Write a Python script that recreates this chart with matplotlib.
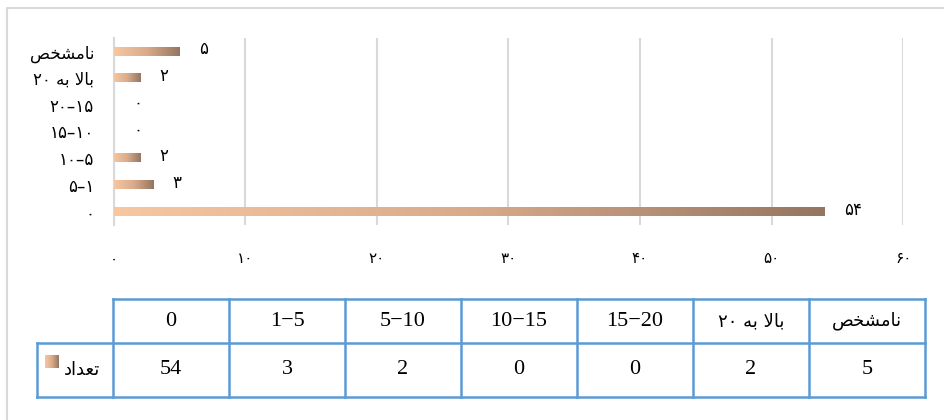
import matplotlib.pyplot as plt
import numpy as np
from matplotlib.colors import LinearSegmentedColormap

W, H = 944, 420

# categories from bottom to top; Persian words written in shaped (presentation) form
categories = ["۰", "۵–۱", "۱۰–۵", "۱۵–۱۰", "۲۰–۱۵",
              "۲۰ \uFEEA\uFE91 \uFEFB\uFE8E\uFE91",
              "\uFEBA\uFEA8\uFEB8\uFEE3\uFE8E\uFEE7"]
counts = [54, 3, 2, 0, 0, 2, 5]
x_ticks = [0, 10, 20, 30, 40, 50, 60]
table_headers = ["0", "1−5", "5−10", "10−15", "15−20", categories[5], categories[6]]
series_name = "\uFEA9\uFE8D\uFEAA\uFECC\uFE97"

FA = str.maketrans("0123456789", "۰۱۲۳۴۵۶۷۸۹")
GRID = "#D9D9D9"
BLUE = "#5B9BD5"
SERIF = ["Liberation Serif", "DejaVu Sans"]
bar_cmap = LinearSegmentedColormap.from_list("bar", ["#F7C7A1", "#D9AB8B", "#957561"])
gradient = np.linspace(0, 1, 256).reshape(1, -1)

plt.rcParams["font.family"] = ["DejaVu Sans"]

fig = plt.figure(figsize=(W / 100, H / 100), dpi=100)

# background layer in pixel coordinates: outer frame and data table
bg = fig.add_axes([0, 0, 1, 1])
bg.set_xlim(0, W)
bg.set_ylim(H, 0)
bg.axis("off")
bg.plot([7, 7, W + 5], [H + 5, 8, 8], color=GRID, lw=1.5)

ax = fig.add_axes([113.5 / W, (H - 225) / H, (903.3 - 113.5) / W, (225 - 38) / H])
ax.set_facecolor("none")

bar_h = 0.32
for i, v in enumerate(counts):
    if v > 0:
        ax.imshow(gradient, cmap=bar_cmap, aspect="auto", interpolation="bilinear",
                  extent=[0, v, i - bar_h / 2, i + bar_h / 2], zorder=3)
    ax.annotate(str(v).translate(FA), (v, i), xytext=(14, 1.5), textcoords="offset points",
                ha="left", va="center", fontsize=12, color="black", zorder=4)

ax.set_xlim(0, 60)
ax.set_ylim(-0.5, len(categories) - 0.5)
ax.set_xticks(x_ticks)
ax.set_xticklabels([str(t).translate(FA) for t in x_ticks], fontsize=11)
ax.set_yticks(range(len(categories)))
ax.set_yticklabels(categories, fontsize=12)
ax.tick_params(axis="x", length=0, pad=19)
ax.tick_params(axis="y", length=0, pad=14)
ax.grid(axis="x", color=GRID, lw=1.5, zorder=0)
for side in ["top", "right", "bottom"]:
    ax.spines[side].set_visible(False)
ax.spines["left"].set_color(GRID)
ax.spines["left"].set_linewidth(1.5)
ax.spines["left"].set_zorder(1)

# data table under the chart
col_edges = [113 + 116 * k for k in range(len(table_headers) + 1)]
row_top, row_mid, row_bot = 299, 343, 397
lw = 1.8
bg.plot([col_edges[0], col_edges[-1]], [row_top, row_top], color=BLUE, lw=lw)
bg.plot([37, col_edges[-1]], [row_mid, row_mid], color=BLUE, lw=lw)
bg.plot([37, col_edges[-1]], [row_bot, row_bot], color=BLUE, lw=lw)
bg.plot([37, 37], [row_mid, row_bot], color=BLUE, lw=lw)
for x in col_edges:
    bg.plot([x, x], [row_top, row_bot], color=BLUE, lw=lw)

for k, (head, v) in enumerate(zip(table_headers, counts)):
    cx = (col_edges[k] + col_edges[k + 1]) / 2
    if head[0] in "0123456789":
        bg.text(cx, (row_top + row_mid) / 2 + 1, head, ha="center", va="center",
                fontsize=16, family=SERIF)
    else:
        bg.text(cx, (row_top + row_mid) / 2, head, ha="center", va="center", fontsize=13)
    bg.text(cx, (row_mid + row_bot) / 2, str(v), ha="center", va="center",
            fontsize=16, family=SERIF)

# series key in the row header
key = bg.inset_axes([45, 355, 14, 13], transform=bg.transData)
key.imshow(gradient, cmap=bar_cmap, aspect="auto", interpolation="bilinear")
key.axis("off")
bg.text(64, (row_mid + row_bot) / 2, series_name, ha="left", va="center", fontsize=13)

fig.savefig("out.png", dpi=100)
